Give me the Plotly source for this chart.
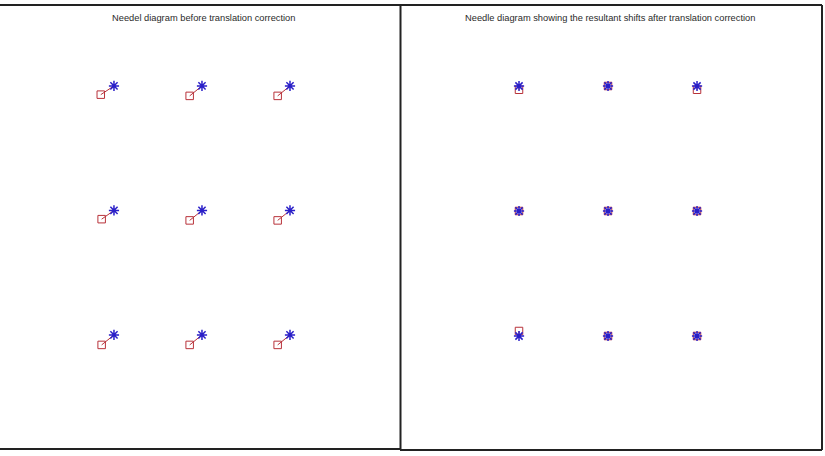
import plotly.graph_objects as go

# Grid reference points (blue stars)
grid_x = [1, 2, 3, 1, 2, 3, 1, 2, 3]
grid_y = [3, 3, 3, 2, 2, 2, 1, 1, 1]

# Measured points before translation correction (red squares, left panel)
before_x = [0.85, 1.86, 2.86, 0.86, 1.86, 2.86, 0.86, 1.86, 2.86]
before_y = [2.93, 2.92, 2.92, 1.93, 1.92, 1.92, 0.92, 0.92, 0.92]

# Measured points after translation correction (red squares, right panel)
after_x = [1.0, 2.0, 3.0, 1.0, 2.0, 3.0, 1.0, 2.0, 3.0]
after_y = [2.97, 3.0, 2.97, 2.0, 2.0, 2.0, 1.04, 1.0, 1.0]

title_left = "Needel diagram before translation correction"
title_right = "Needle diagram showing the resultant shifts after translation correction"

W, H = 825, 456
RED = "#b8323a"
BLUE = "#2a1fc8"


def needles(xs, ys, x0s, y0s):
    lx, ly = [], []
    for a, b, c, d in zip(xs, ys, x0s, y0s):
        lx += [a, c, None]
        ly += [b, d, None]
    return lx, ly


fig = go.Figure()
for mx, my, ax in [(before_x, before_y, ""), (after_x, after_y, "2")]:
    lx, ly = needles(mx, my, grid_x, grid_y)
    fig.add_trace(go.Scatter(x=lx, y=ly, mode="lines", line=dict(color=RED, width=1),
                             xaxis="x" + ax, yaxis="y" + ax, hoverinfo="skip", showlegend=False))
    fig.add_trace(go.Scatter(x=mx, y=my, mode="markers",
                             marker=dict(symbol="square-open", size=7.5, color=RED, line=dict(width=1, color=RED)),
                             xaxis="x" + ax, yaxis="y" + ax, showlegend=False))
    fig.add_trace(go.Scatter(x=grid_x, y=grid_y, mode="markers",
                             marker=dict(symbol="asterisk-open", size=8.5, color=BLUE, line=dict(width=1.5, color=BLUE)),
                             xaxis="x" + ax, yaxis="y" + ax, showlegend=False))


def px(x):
    return x / W


def py(y):
    return 1 - y / H


hidden = dict(visible=False, showgrid=False, zeroline=False)
fig.update_layout(
    width=W, height=H, margin=dict(l=0, r=0, t=0, b=0),
    paper_bgcolor="white", plot_bgcolor="white",
    xaxis=dict(domain=[px(0), px(400)], range=[-0.295, 4.25], **hidden),
    yaxis=dict(domain=[py(449), py(5)], range=[0.084, 3.65], **hidden),
    xaxis2=dict(domain=[px(400), px(822)], range=[-0.337, 4.404], **hidden),
    yaxis2=dict(domain=[py(451), py(5)], range=[0.08, 3.648], **hidden),
)

border = dict(color="#222222", width=2)
shapes = [
    dict(type="line", xref="paper", yref="paper", x0=px(0), x1=px(822), y0=py(5), y1=py(5), line=border),
    dict(type="line", xref="paper", yref="paper", x0=px(0), x1=px(400), y0=py(449), y1=py(449), line=border),
    dict(type="line", xref="paper", yref="paper", x0=px(400), x1=px(822), y0=py(450), y1=py(450), line=border),
    dict(type="line", xref="paper", yref="paper", x0=px(400.5), x1=px(400.5), y0=py(5), y1=py(450), line=border),
    dict(type="line", xref="paper", yref="paper", x0=px(822), x1=px(822), y0=py(5), y1=py(450), line=border),
]
fig.update_layout(shapes=shapes)

font = dict(family="Liberation Sans, Arial, sans-serif", size=9.3, color="#2a2a2a")
fig.add_annotation(text=title_left, x=px(203), y=py(18), xref="paper", yref="paper",
                   showarrow=False, font=font, xanchor="center", yanchor="middle")
fig.add_annotation(text=title_right, x=px(610), y=py(18), xref="paper", yref="paper",
                   showarrow=False, font=font, xanchor="center", yanchor="middle")

fig.write_html("out.html")
